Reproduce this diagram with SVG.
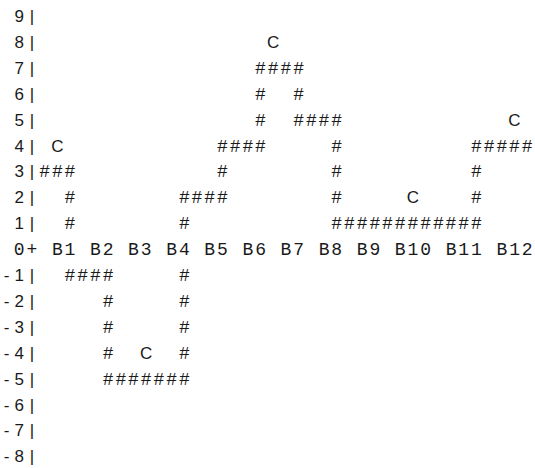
<svg xmlns="http://www.w3.org/2000/svg" width="535" height="468" viewBox="0 0 535 468">
<style>
.m{font-family:"Liberation Mono","DejaVu Sans Mono",monospace;font-size:18px;letter-spacing:1.9px;fill:#1a1a1a}
.s{font-family:"Liberation Sans",Arial,sans-serif;font-size:17px;fill:#1a1a1a;text-anchor:middle}
</style>
<rect width="535" height="468" fill="#ffffff"/>
<g id="row-labels" class="s">
<text x="19.2" y="22">9</text><text x="31.9" y="22">|</text>
<text x="19.2" y="47.9">8</text><text x="31.9" y="47.9">|</text>
<text x="19.2" y="73.8">7</text><text x="31.9" y="73.8">|</text>
<text x="19.2" y="99.7">6</text><text x="31.9" y="99.7">|</text>
<text x="19.2" y="125.6">5</text><text x="31.9" y="125.6">|</text>
<text x="19.2" y="151.5">4</text><text x="31.9" y="151.5">|</text>
<text x="19.2" y="177.4">3</text><text x="31.9" y="177.4">|</text>
<text x="19.2" y="203.3">2</text><text x="31.9" y="203.3">|</text>
<text x="19.2" y="229.2">1</text><text x="31.9" y="229.2">|</text>
<text x="6.5" y="281">-</text><text x="19.2" y="281">1</text><text x="31.9" y="281">|</text>
<text x="6.5" y="306.9">-</text><text x="19.2" y="306.9">2</text><text x="31.9" y="306.9">|</text>
<text x="6.5" y="332.8">-</text><text x="19.2" y="332.8">3</text><text x="31.9" y="332.8">|</text>
<text x="6.5" y="358.7">-</text><text x="19.2" y="358.7">4</text><text x="31.9" y="358.7">|</text>
<text x="6.5" y="384.6">-</text><text x="19.2" y="384.6">5</text><text x="31.9" y="384.6">|</text>
<text x="6.5" y="410.5">-</text><text x="19.2" y="410.5">6</text><text x="31.9" y="410.5">|</text>
<text x="6.5" y="436.4">-</text><text x="19.2" y="436.4">7</text><text x="31.9" y="436.4">|</text>
<text x="6.5" y="462.3">-</text><text x="19.2" y="462.3">8</text><text x="31.9" y="462.3">|</text>
</g>
<g id="axis" class="m">
<text x="13.8" y="255.1" xml:space="preserve">0+ B1 B2 B3 B4 B5 B6 B7 B8 B9 B10 B11 B12</text>
</g>
<g id="paths" class="m">
<text x="255.1" y="73.8">####</text>
<text x="255.1" y="99.7">#</text><text x="293.2" y="99.7">#</text>
<text x="255.1" y="125.6">#</text><text x="293.2" y="125.6">####</text>
<text x="217.0" y="151.5">####</text><text x="331.3" y="151.5">#</text><text x="471.0" y="151.5">#####</text>
<text x="39.2" y="177.4">###</text><text x="217.0" y="177.4">#</text><text x="331.3" y="177.4">#</text><text x="471.0" y="177.4">#</text>
<text x="64.6" y="203.3">#</text><text x="178.9" y="203.3">####</text><text x="331.3" y="203.3">#</text><text x="471.0" y="203.3">#</text>
<text x="64.6" y="229.2">#</text><text x="178.9" y="229.2">#</text><text x="331.3" y="229.2">############</text>
<text x="64.6" y="281">####</text><text x="178.9" y="281">#</text>
<text x="102.7" y="306.9">#</text><text x="178.9" y="306.9">#</text>
<text x="102.7" y="332.8">#</text><text x="178.9" y="332.8">#</text>
<text x="102.7" y="358.7">#</text><text x="178.9" y="358.7">#</text>
<text x="102.7" y="384.6">#######</text>
</g>
<g id="centers" class="s">
<text x="273.2" y="47.9">C</text>
<text x="514.5" y="125.6">C</text>
<text x="57.3" y="151.5">C</text>
<text x="412.9" y="203.3">C</text>
<text x="146.2" y="358.7">C</text>
</g>
</svg>
